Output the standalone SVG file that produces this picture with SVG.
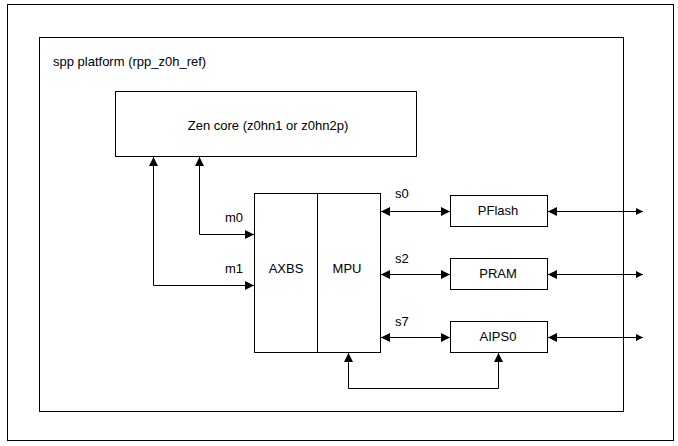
<svg xmlns="http://www.w3.org/2000/svg" width="678" height="446" viewBox="0 0 678 446">
<style>
.box{fill:#fff;stroke:#000;stroke-width:1}
.frame{fill:none;stroke:#000;stroke-width:1}
.t{font-family:"Liberation Sans",Arial,sans-serif;font-size:13px;fill:#000}
.c{text-anchor:middle}
.ln{fill:none;stroke:#000;stroke-width:1}
.a{marker-start:url(#ah);marker-end:url(#ah)}
.b{marker-start:url(#ah);marker-end:url(#as)}
</style>
<defs>
<marker id="ah" markerUnits="userSpaceOnUse" markerWidth="10" markerHeight="9" refX="9" refY="4.5" orient="auto-start-reverse" viewBox="0 0 10 9">
<path d="M0,0 L9,4.5 L0,9 z" fill="#000"/>
</marker>
<marker id="as" markerUnits="userSpaceOnUse" markerWidth="8" markerHeight="7" refX="7" refY="3.5" orient="auto-start-reverse" viewBox="0 0 8 7">
<path d="M0,0 L7,3.5 L0,7 z" fill="#000"/>
</marker>
</defs>
<rect width="678" height="446" fill="#fff"/>
<g id="outer"><rect class="frame" x="7.5" y="4.5" width="666" height="436"/></g>
<g id="platform">
<rect class="frame" x="39.5" y="37.5" width="584" height="374"/>
<text class="t" x="53" y="66">spp platform (rpp_z0h_ref)</text>
</g>
<g id="zen">
<rect class="box" x="115.5" y="91.5" width="301" height="65"/>
<text class="t c" x="268" y="130">Zen core (z0hn1 or z0hn2p)</text>
</g>
<g id="axbs">
<rect class="box" x="254.5" y="193.5" width="63" height="159"/>
<text class="t c" x="286" y="273">AXBS</text>
</g>
<g id="mpu">
<rect class="box" x="317.5" y="193.5" width="63" height="159"/>
<text class="t c" x="347" y="273">MPU</text>
</g>
<g id="pflash">
<rect class="box" x="450.5" y="195.5" width="97" height="31"/>
<text class="t c" x="498" y="215">PFlash</text>
</g>
<g id="pram">
<rect class="box" x="450.5" y="258.5" width="97" height="31"/>
<text class="t c" x="498" y="278">PRAM</text>
</g>
<g id="aips0">
<rect class="box" x="450.5" y="321.5" width="97" height="31"/>
<text class="t c" x="498" y="341">AIPS0</text>
</g>
<g id="connectors">
<path class="ln a" d="M153.5,157 V285.5 H254"/>
<path class="ln a" d="M199.5,157 V234.5 H254"/>
<path class="ln a" d="M381,211.5 H450"/>
<path class="ln a" d="M381,274.5 H450"/>
<path class="ln a" d="M381,337.5 H450"/>
<path class="ln b" d="M548,211.5 H643"/>
<path class="ln b" d="M548,274.5 H643"/>
<path class="ln b" d="M548,337.5 H643"/>
<path class="ln a" d="M348.5,353 V388.5 H498.5 V353"/>
<text class="t" x="225" y="222">m0</text>
<text class="t" x="225" y="273">m1</text>
<text class="t" x="395" y="198">s0</text>
<text class="t" x="395" y="263">s2</text>
<text class="t" x="395" y="326">s7</text>
</g>
</svg>
